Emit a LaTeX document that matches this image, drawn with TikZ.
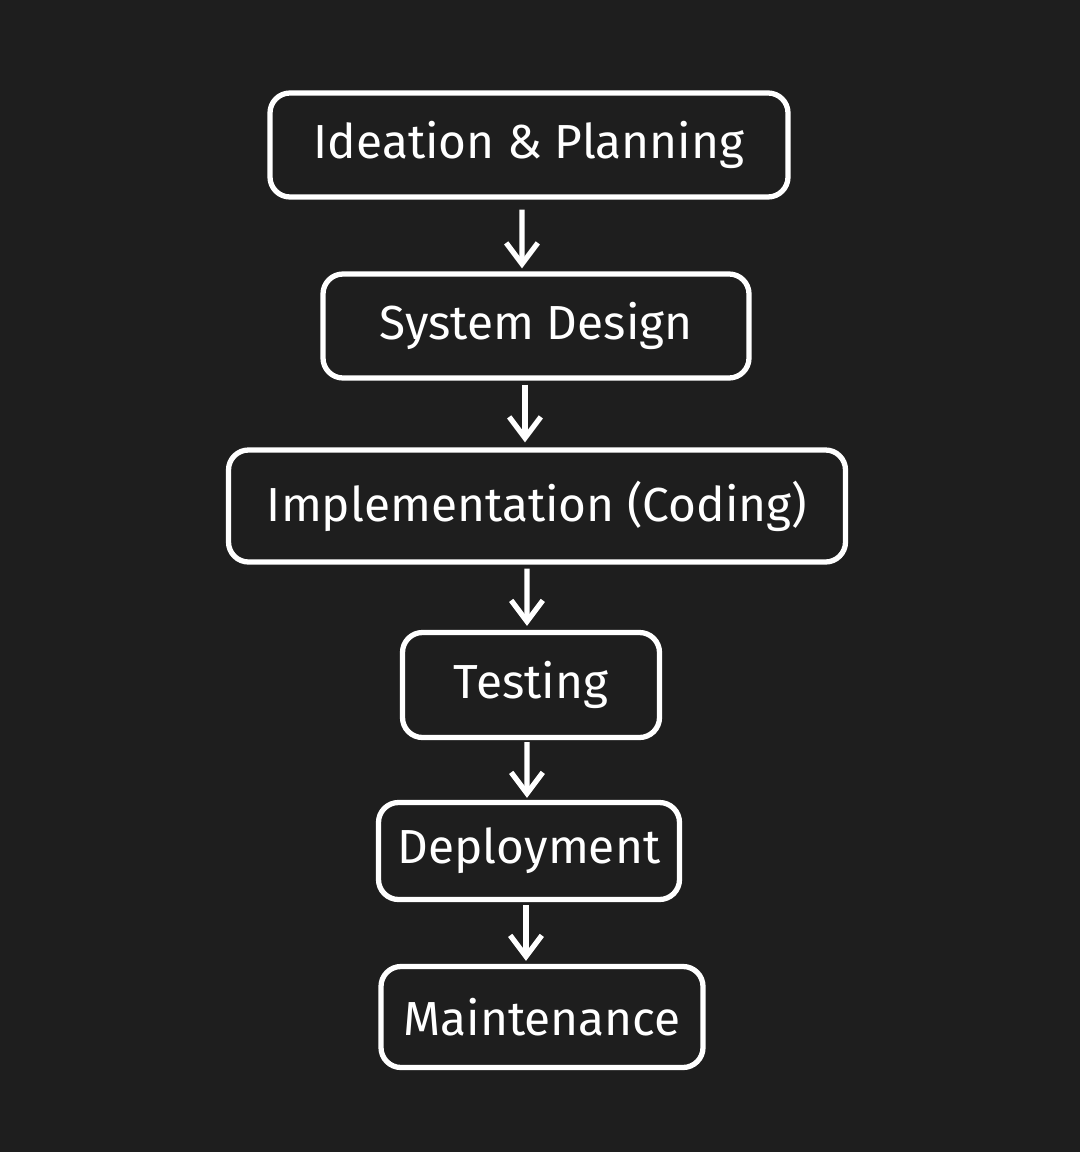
\documentclass[tikz,border=0pt]{standalone}
\usepackage{fontspec}
\setmainfont{Fira Sans}
\usetikzlibrary{arrows.meta}
\definecolor{canvas}{HTML}{1E1E1E}

\begin{document}
\begin{tikzpicture}
    \tikzset{phase/.style={draw=white, fill=canvas, line width=1.5pt, rounded corners=0.2cm,
        text=white, inner sep=0pt, font=\fontsize{13.6}{16}\selectfont},
      flow/.style={white, line width=1.5pt, -{Straight Barb[length=6pt, width=9pt]}}}
    \fill [canvas] (0,0) rectangle (10.8,-11.52);
    \node (ideation) at (5.29,-1.45) [phase, minimum width=5.18cm, minimum height=1.04cm] {Ideation \& Planning};
    \node (design) at (5.36,-3.26) [phase, minimum width=4.26cm, minimum height=1.04cm] {System Design};
    \node (coding) at (5.37,-5.06) [phase, minimum width=6.17cm, minimum height=1.12cm] {Implementation (Coding)};
    \node (testing) at (5.31,-6.85) [phase, minimum width=2.57cm, minimum height=1.05cm] {Testing};
    \node (deploy) at (5.29,-8.51) [phase, minimum width=3.01cm, minimum height=0.97cm] {Deployment};
    \node (maint) at (5.42,-10.17) [phase, minimum width=3.22cm, minimum height=1.01cm] {Maintenance};
    \draw [flow, shorten <=0.1cm, shorten >=0.03cm] ([xshift=-0.07cm]ideation.south) -- ([xshift=-0.14cm]design.north);
    \draw [flow, shorten <=0.04cm, shorten >=0.05cm] ([xshift=-0.11cm]design.south) -- ([xshift=-0.12cm]coding.north);
    \draw [flow, shorten <=0.04cm, shorten >=0.04cm] ([xshift=-0.10cm]coding.south) -- ([xshift=-0.04cm]testing.north);
    \draw [flow, shorten <=0.02cm, shorten >=0.02cm] ([xshift=-0.04cm]testing.south) -- ([xshift=-0.02cm]deploy.north);
    \draw [flow, shorten <=0.03cm, shorten >=0.03cm] ([xshift=-0.03cm]deploy.south) -- ([xshift=-0.16cm]maint.north);
\end{tikzpicture}
\end{document}
